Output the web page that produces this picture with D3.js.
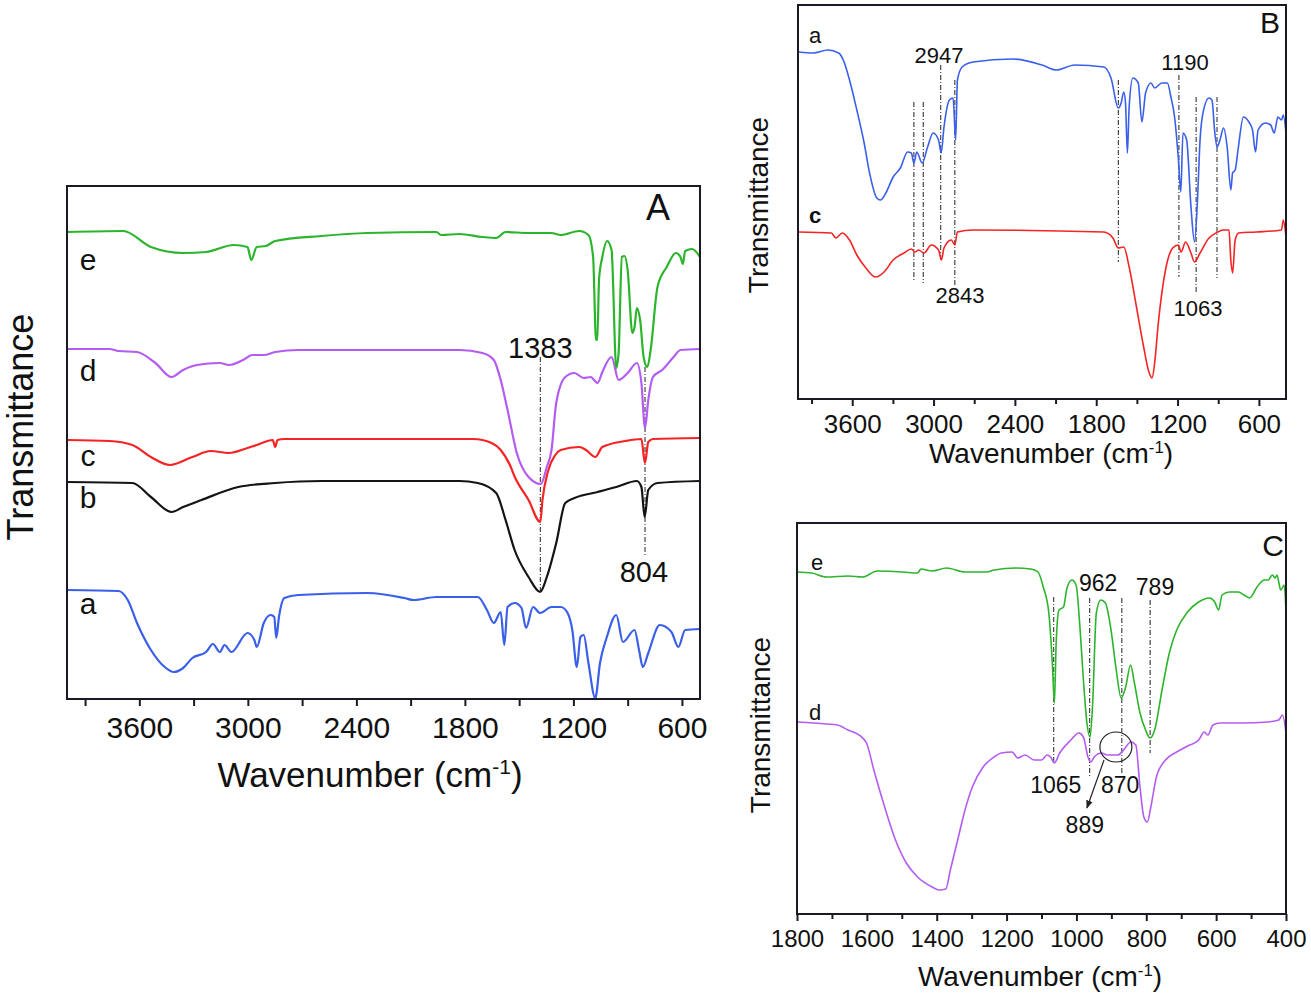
<!DOCTYPE html>
<html>
<head>
<meta charset="utf-8">
<script src="https://cdn.jsdelivr.net/npm/d3@7"></script>
<style>
body { margin: 0; background: #fff; }
svg { font-family: "Liberation Sans", Arial, Helvetica, sans-serif; }
</style>
</head>
<body>
<svg id="fig" width="1311" height="997"></svg>
<script>
// ---- tick values ----
var majorA = [3600, 3000, 2400, 1800, 1200, 600];
var minorA = [3900, 3300, 2700, 2100, 1500, 900];
var majorB = [3600, 3000, 2400, 1800, 1200, 600];
var minorB = [3900, 3300, 2700, 2100, 1500, 900];
var majorC = [1800, 1600, 1400, 1200, 1000, 800, 600, 400];
var minorC = [1700, 1500, 1300, 1100, 900, 700, 500];

// ---- spectra, [wavenumber, transmittance a.u.] ----
// panel A
var A_a = [[4000,109],[3715,108],[3664,99],[3613,76],[3536,49],[3460,32],[3409,27],[3358,31],[3307,41],[3231,47],[3193,55],[3155,47],[3129,54],[3091,47],[3002,66],[2964,59],[2951,52],[2912,76],[2874,84],[2854,82],[2843,61],[2828,82],[2798,101],[2721,104],[2339,106],[2135,101],[2084,99],[1957,102],[1729,102],[1678,89],[1640,76],[1602,87],[1582,54],[1564,92],[1525,96],[1487,91],[1462,71],[1423,92],[1384,86],[1321,92],[1270,92],[1232,86],[1206,69],[1181,32],[1161,62],[1143,64],[1117,36],[1079,1],[1053,36],[1015,62],[963,84],[926,57],[862,69],[837,49],[816,32],[786,46],[722,74],[658,67],[620,52],[582,69],[500,70]];
var A_b = [[4000,217],[3639,216],[3536,202],[3422,187],[3358,192],[3256,199],[3053,212],[2849,216],[2594,218],[1830,218],[1729,216],[1627,206],[1575,179],[1525,149],[1448,122],[1384,107],[1347,122],[1295,156],[1245,196],[1194,201],[1066,207],[963,212],[849,218],[824,212],[806,182],[786,209],[735,216],[500,218]];
var A_c = [[4000,259],[3766,258],[3639,254],[3536,242],[3430,234],[3307,242],[3206,248],[3104,246],[3002,251],[2951,254],[2862,259],[2849,252],[2836,259],[2798,260],[1754,260],[1652,256],[1602,249],[1551,234],[1524,222],[1448,199],[1383,177],[1371,199],[1340,228],[1300,244],[1270,249],[1168,252],[1130,249],[1079,242],[1040,252],[913,258],[824,260],[811,243],[804,236],[786,257],[760,260],[500,261]];
var A_d = [[4000,350],[3766,350],[3715,348],[3613,347],[3511,336],[3422,322],[3358,329],[3282,334],[3155,336],[3104,334],[3027,339],[2976,344],[2912,344],[2849,347],[2721,349],[1830,349],[1703,346],[1640,339],[1602,319],[1564,289],[1513,246],[1448,222],[1380,215],[1347,232],[1321,249],[1295,296],[1245,322],[1194,326],[1143,321],[1105,322],[1066,316],[1040,327],[989,342],[950,319],[900,326],[849,336],[824,316],[804,271],[786,299],[760,322],[709,329],[646,342],[608,349],[500,350]];
var A_e = [[4000,467],[3689,468],[3536,452],[3358,446],[3231,447],[3078,454],[3002,452],[2981,439],[2951,452],[2900,453],[2849,458],[2594,463],[2339,466],[1957,467],[1932,464],[1830,465],[1703,462],[1627,461],[1575,467],[1448,466],[1321,466],[1270,464],[1168,468],[1117,464],[1091,442],[1075,359],[1068,359],[1058,420],[1040,442],[1014,458],[989,449],[963,331],[950,346],[932,442],[917,443],[900,429],[874,366],[862,372],[849,391],[831,379],[811,341],[791,332],[773,349],[735,412],[684,432],[633,446],[608,442],[595,435],[582,448],[544,450],[500,442]];

// panel B
var B_a = [[3995,347],[3887,346],[3780,349],[3700,346],[3660,337],[3620,319],[3566,289],[3512,256],[3472,226],[3419,201],[3392,199],[3352,206],[3298,222],[3245,231],[3191,247],[3164,246],[3145,236],[3124,247],[3084,236],[3044,252],[3003,266],[2963,259],[2944,246],[2923,272],[2883,299],[2856,301],[2837,259],[2824,319],[2789,332],[2709,337],[2414,340],[2200,334],[2093,329],[1959,334],[1744,332],[1691,321],[1637,291],[1616,296],[1597,307],[1584,296],[1570,246],[1557,292],[1530,321],[1490,316],[1463,277],[1436,306],[1396,316],[1369,311],[1316,316],[1275,316],[1249,302],[1222,282],[1195,242],[1176,207],[1160,266],[1133,259],[1101,192],[1075,157],[1053,199],[1034,259],[1008,289],[968,301],[946,299],[927,269],[909,252],[887,259],[861,271],[834,252],[807,209],[794,226],[775,229],[754,249],[714,282],[674,277],[647,269],[625,247],[606,269],[553,276],[513,274],[487,266],[460,282],[433,279],[420,284],[400,266]];
var B_c = [[3995,167],[3754,166],[3721,161],[3673,166],[3620,159],[3566,144],[3499,131],[3427,122],[3365,127],[3298,139],[3218,146],[3164,150],[3137,147],[3111,149],[3070,146],[3017,154],[2963,149],[2942,139],[2923,151],[2869,159],[2843,154],[2824,167],[2709,169],[1744,167],[1677,161],[1637,151],[1597,152],[1557,132],[1503,92],[1450,52],[1409,26],[1388,21],[1369,36],[1342,76],[1289,129],[1236,151],[1195,154],[1174,147],[1141,157],[1101,146],[1075,137],[1034,146],[968,161],[915,166],[861,169],[821,169],[807,139],[794,126],[775,159],[749,166],[620,167],[433,169],[420,179],[400,162]];

// panel C
var C_e = [[1800,342],[1758,341],[1716,337],[1654,338],[1612,337],[1570,343],[1497,342],[1455,341],[1445,345],[1413,343],[1372,346],[1319,342],[1257,342],[1236,344],[1173,346],[1131,345],[1110,342],[1095,327],[1079,301],[1069,251],[1063,211],[1058,271],[1050,304],[1037,307],[1027,326],[1013,334],[1001,329],[990,287],[980,234],[970,191],[961,177],[954,207],[943,301],[930,314],[917,311],[901,284],[886,244],[872,216],[859,227],[845,249],[834,231],[818,201],[802,184],[789,176],[776,184],[755,224],[734,261],[713,284],[682,302],[650,312],[619,316],[604,312],[593,304],[583,319],[562,322],[536,322],[520,319],[504,316],[483,327],[462,334],[451,334],[439,339],[431,336],[426,339],[415,324],[405,329],[400,301]];
var C_d = [[1800,192],[1716,190],[1685,189],[1654,184],[1612,176],[1601,171],[1580,144],[1549,107],[1518,74],[1487,51],[1455,37],[1413,27],[1393,24],[1374,25],[1361,44],[1340,74],[1319,104],[1298,127],[1267,147],[1236,157],[1215,161],[1184,162],[1168,156],[1147,159],[1121,154],[1100,154],[1084,159],[1074,157],[1063,151],[1048,161],[1016,174],[993,181],[980,177],[967,157],[959,152],[949,157],[928,161],[912,159],[881,159],[865,164],[844,172],[830,169],[818,127],[807,97],[797,92],[787,107],[771,137],[745,154],[713,162],[682,168],[650,174],[634,182],[624,179],[609,189],[588,191],[525,191],[452,192],[421,194],[410,199],[400,181]];

// ---- peak marker lines [wavenumber, top, bottom] and labels ----
var marksA = [[1383, 342, 107], [804, 332, 142]];
var labelsA = [["1383", 1383, 351], ["804", 810, 127]];
var marksB = [[3145, 297, 117], [3076, 297, 116], [2947, 334, 137], [2843, 319, 114],
              [1637, 319, 137], [1190, 324, 122], [1063, 302, 107], [909, 302, 121]];
var labelsB = [["2947", 2960, 344], ["2843", 2805, 104], ["1190", 1145, 337], ["1063", 1049, 91]];
var marksC = [[1065, 317, 151], [962, 316, 137], [870, 316, 139], [789, 314, 161]];
var labelsC = [["1065", 1059, 129], ["962", 938, 331], ["789", 775, 327], ["870", 875, 129], ["889", 976, 89]];

var svg = d3.select("#fig");
var ink = "#1a1a24";

function drawPanel(p) {
    var x = d3.scaleLinear().domain(p.xDomain).range([p.left, p.right]);
    var y = d3.scaleLinear().domain([0, p.yMax]).range([p.bottom, p.top]);
    var g = svg.append("g");

    svg.append("clipPath").attr("id", "clip" + p.name)
        .append("rect")
        .attr("x", p.left).attr("y", p.top)
        .attr("width", p.right - p.left).attr("height", p.bottom - p.top);

    var line = d3.line()
        .x(function (d) { return x(d[0]); })
        .y(function (d) { return y(d[1]); })
        .curve(d3.curveMonotoneX);

    // dash-dot peak lines
    g.selectAll(".mark").data(p.marks).enter().append("line")
        .attr("x1", function (d) { return x(d[0]); })
        .attr("x2", function (d) { return x(d[0]); })
        .attr("y1", function (d) { return y(d[1]); })
        .attr("y2", function (d) { return y(d[2]); })
        .attr("stroke", "#222")
        .attr("stroke-width", 1)
        .attr("stroke-dasharray", "5,2,1,2");

    // spectra
    p.series.forEach(function (s) {
        g.append("path").datum(s.data)
            .attr("clip-path", "url(#clip" + p.name + ")")
            .attr("d", line)
            .attr("fill", "none")
            .attr("stroke", s.color)
            .attr("stroke-width", p.lw)
            .attr("stroke-linejoin", "round");
    });

    // peak labels
    g.selectAll(".plab").data(p.labels).enter().append("text")
        .attr("x", function (d) { return x(d[1]); })
        .attr("y", function (d) { return y(d[2]); })
        .attr("dy", "0.36em")
        .attr("text-anchor", "middle")
        .attr("font-size", p.labelSize)
        .attr("fill", "#111")
        .text(function (d) { return d[0]; });

    // series letters
    p.names.forEach(function (n) {
        g.append("text")
            .attr("x", p.left + n.dx).attr("y", p.top + n.dy)
            .attr("dy", "0.36em")
            .attr("text-anchor", "middle")
            .attr("font-size", p.nameSize)
            .attr("font-weight", n.bold ? "bold" : "normal")
            .attr("fill", "#111")
            .text(n.t);
    });

    // panel letter
    g.append("text")
        .attr("x", p.right - p.tagDx).attr("y", p.top + p.tagDy)
        .attr("dy", "0.36em")
        .attr("text-anchor", "middle")
        .attr("font-size", p.tagSize)
        .attr("fill", "#111")
        .text(p.name);

    // x axis
    var ax = g.append("g").attr("transform", "translate(0," + p.bottom + ")")
        .call(d3.axisBottom(x).tickValues(p.major).tickSize(7)
            .tickPadding(p.pad).tickFormat(d3.format("d")));
    ax.select(".domain").remove();
    ax.selectAll("line").attr("stroke", ink).attr("stroke-width", 2);
    ax.selectAll("text").attr("font-size", p.tickSize).attr("fill", "#111")
        .attr("font-family", "Liberation Sans, Arial, sans-serif");

    var mx = g.append("g").attr("transform", "translate(0," + p.bottom + ")")
        .call(d3.axisBottom(x).tickValues(p.minor).tickSize(p.minorLen).tickFormat(""));
    mx.select(".domain").remove();
    mx.selectAll("line").attr("stroke", ink).attr("stroke-width", 2);

    // frame
    g.append("rect")
        .attr("x", p.left).attr("y", p.top)
        .attr("width", p.right - p.left).attr("height", p.bottom - p.top)
        .attr("fill", "none").attr("stroke", ink).attr("stroke-width", 2);

    // axis titles
    var xt = g.append("text")
        .attr("x", p.xTitle[0]).attr("y", p.xTitle[1])
        .attr("text-anchor", "middle")
        .attr("font-size", p.titleSize).attr("fill", "#111");
    xt.append("tspan").text("Wavenumber (cm");
    xt.append("tspan").attr("dy", "-0.6em").attr("font-size", p.titleSize * 0.6).text("-1");
    xt.append("tspan").attr("dy", "0.36em").text(")");

    g.append("text")
        .attr("transform", "translate(" + p.yTitle[0] + "," + p.yTitle[1] + ") rotate(-90)")
        .attr("text-anchor", "middle")
        .attr("font-size", p.yTitleSize).attr("fill", "#111")
        .text("Transmittance");

    return {x: x, y: y, g: g};
}

drawPanel({
    name: "A", left: 67, right: 700, top: 186, bottom: 699,
    xDomain: [4000, 500], yMax: 513, lw: 2.2,
    major: majorA, minor: minorA, minorLen: 7, pad: 11, tickSize: 30,
    series: [
        {data: A_a, color: "#3a5fe8"},
        {data: A_b, color: "#141414"},
        {data: A_c, color: "#f52424"},
        {data: A_d, color: "#b45cf2"},
        {data: A_e, color: "#2cb52c"}
    ],
    marks: marksA, labels: labelsA, labelSize: 29,
    names: [{t: "e", dx: 21, dy: 73}, {t: "d", dx: 21, dy: 184}, {t: "c", dx: 21, dy: 269},
            {t: "b", dx: 21, dy: 311}, {t: "a", dx: 21, dy: 417}],
    nameSize: 30, tagDx: 42, tagDy: 21, tagSize: 36,
    xTitle: [370, 787], titleSize: 35, yTitle: [33, 427], yTitleSize: 36
});

drawPanel({
    name: "B", left: 798, right: 1286, top: 5, bottom: 399,
    xDomain: [4000, 400], yMax: 394, lw: 1.6,
    major: majorB, minor: minorB, minorLen: 5, pad: 9, tickSize: 26,
    series: [
        {data: B_a, color: "#3a5fe8"},
        {data: B_c, color: "#f52424"}
    ],
    marks: marksB, labels: labelsB, labelSize: 22,
    names: [{t: "a", dx: 17, dy: 30}, {t: "c", dx: 17, dy: 210, bold: true}],
    nameSize: 22, tagDx: 16, tagDy: 17, tagSize: 30,
    xTitle: [1051, 463], titleSize: 28, yTitle: [768, 205], yTitleSize: 28
});

var pc = drawPanel({
    name: "C", left: 797, right: 1286, top: 523, bottom: 914,
    xDomain: [1800, 400], yMax: 391, lw: 1.6,
    major: majorC, minor: minorC, minorLen: 5, pad: 8.5, tickSize: 24,
    series: [
        {data: C_e, color: "#2cb52c"},
        {data: C_d, color: "#b45cf2"}
    ],
    marks: marksC, labels: labelsC, labelSize: 23,
    names: [{t: "e", dx: 20, dy: 39}, {t: "d", dx: 18, dy: 189}],
    nameSize: 22, tagDx: 13, tagDy: 22, tagSize: 30,
    xTitle: [1040, 986], titleSize: 28, yTitle: [770, 725], yTitleSize: 28
});

// circle around the 889 shoulder and arrow to its label
var circ889 = [887, 167];
var arrow889 = [[921, 154], [970, 106]];
pc.g.append("ellipse")
    .attr("cx", pc.x(circ889[0])).attr("cy", pc.y(circ889[1]))
    .attr("rx", 16).attr("ry", 15)
    .attr("fill", "none").attr("stroke", "#222").attr("stroke-width", 1.2);

svg.append("defs").append("marker")
    .attr("id", "ah").attr("viewBox", "0 0 10 10")
    .attr("refX", 9).attr("refY", 5)
    .attr("markerWidth", 7).attr("markerHeight", 7)
    .attr("orient", "auto")
    .append("path").attr("d", "M0,1 L10,5 L0,9 Z").attr("fill", "#222");

pc.g.append("line")
    .attr("x1", pc.x(arrow889[0][0])).attr("y1", pc.y(arrow889[0][1]))
    .attr("x2", pc.x(arrow889[1][0])).attr("y2", pc.y(arrow889[1][1]))
    .attr("stroke", "#222").attr("stroke-width", 1.2)
    .attr("marker-end", "url(#ah)");
</script>
</body>
</html>
